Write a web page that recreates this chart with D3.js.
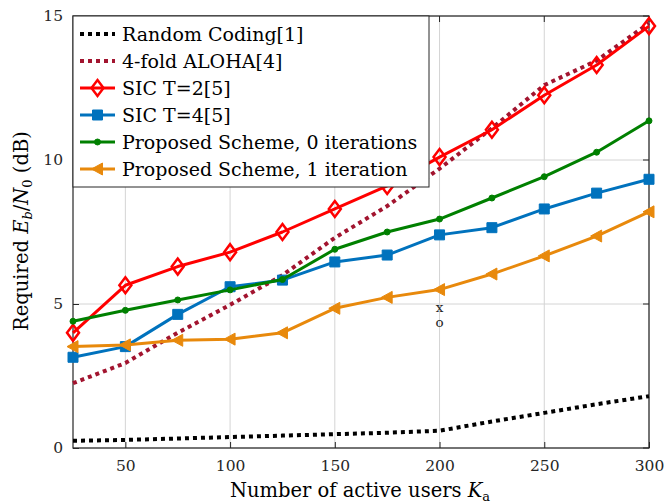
<!DOCTYPE html>
<html>
<head>
<meta charset="utf-8">
<script src="https://cdn.jsdelivr.net/npm/d3@7"></script>
<style>
  body { margin: 0; background: #fff; }
  text { font-family: "DejaVu Serif", serif; }
</style>
</head>
<body>
<svg id="chart" width="665" height="504"></svg>
<script>
const users = [25, 50, 75, 100, 125, 150, 175, 200, 225, 250, 275, 300];

const randomCoding = [0.25, 0.28, 0.33, 0.38, 0.43, 0.48, 0.53, 0.6, 0.92, 1.22, 1.52, 1.8];
const aloha4 = [2.25, 2.95, 4.0, 4.97, 6.0, 7.3, 8.4, 9.7, 11.1, 12.6, 13.45, 14.75];
const sicT2 = [4.0, 5.65, 6.3, 6.8, 7.5, 8.3, 9.1, 10.1, 11.05, 12.25, 13.3, 14.65];
const sicT4 = [3.15, 3.52, 4.64, 5.6, 5.83, 6.46, 6.7, 7.4, 7.65, 8.3, 8.85, 9.33];
const proposed0 = [4.4, 4.78, 5.14, 5.49, 5.85, 6.9, 7.5, 7.95, 8.68, 9.42, 10.27, 11.36];
const proposed1 = [3.52, 3.58, 3.74, 3.78, 4.0, 4.85, 5.23, 5.5, 6.04, 6.67, 7.36, 8.2];

const xTicks = [50, 100, 150, 200, 250, 300];
const yTicks = [0, 5, 10, 15];

const svg = d3.select('#chart');
const padLeft = 73, padRight = 649, padTop = 16, padBottom = 448;

const x = d3.scaleLinear().domain([25, 300]).range([padLeft, padRight]);
const y = d3.scaleLinear().domain([0, 15]).range([padBottom, padTop]);

// grid
svg.append('g').selectAll('line').data(xTicks).enter().append('line')
  .attr('x1', d => x(d)).attr('x2', d => x(d)).attr('y1', padTop).attr('y2', padBottom)
  .attr('stroke', '#d4d4d4').attr('stroke-width', 1);
svg.append('g').selectAll('line').data(yTicks).enter().append('line')
  .attr('x1', padLeft).attr('x2', padRight).attr('y1', d => y(d)).attr('y2', d => y(d))
  .attr('stroke', '#d4d4d4').attr('stroke-width', 1);

// axes
const xAxis = d3.axisBottom(x).tickValues(xTicks).tickSize(-6).tickPadding(12);
const yAxis = d3.axisLeft(y).tickValues(yTicks).tickSize(-6).tickPadding(10);
const gx = svg.append('g').attr('transform', `translate(0,${padBottom})`).call(xAxis);
const gy = svg.append('g').attr('transform', `translate(${padLeft},0)`).call(yAxis);
[gx, gy].forEach(g => {
  g.select('.domain').remove();
  g.selectAll('line').attr('stroke', '#262626');
  g.selectAll('text').attr('font-size', 15.5).attr('fill', '#262626')
    .attr('font-family', '"DejaVu Serif", serif');
});
// right side ticks
svg.append('g').selectAll('line').data(yTicks).enter().append('line')
  .attr('x1', padRight - 6).attr('x2', padRight).attr('y1', d => y(d)).attr('y2', d => y(d))
  .attr('stroke', '#262626');
svg.append('g').selectAll('line').data(xTicks).enter().append('line')
  .attr('x1', d => x(d)).attr('x2', d => x(d)).attr('y1', padTop).attr('y2', padTop + 6)
  .attr('stroke', '#262626');

svg.append('rect').attr('x', padLeft).attr('y', padTop)
  .attr('width', padRight - padLeft).attr('height', padBottom - padTop)
  .attr('fill', 'none').attr('stroke', '#262626').attr('stroke-width', 1.2);

// marker shapes
const markerPath = {
  diamond: 'M0,-8L6,0L0,8L-6,0Z',
  square: 'M-5,-5L5,-5L5,5L-5,5Z',
  dot: d3.symbol().type(d3.symbolCircle).size(28)(),
  left: 'M-6,0L5,-6L5,6Z'
};

const series = [
  { name: 'Random Coding[1]', values: randomCoding, color: '#000000', dash: '4 4', width: 4 },
  { name: '4-fold ALOHA[4]', values: aloha4, color: '#a2142f', dash: '4 4', width: 4 },
  { name: 'SIC T=2[5]', values: sicT2, color: '#ff0000', width: 3, marker: 'diamond', hollow: true },
  { name: 'SIC T=4[5]', values: sicT4, color: '#0072bd', width: 3, marker: 'square' },
  { name: 'Proposed Scheme, 0 iterations', values: proposed0, color: '#008000', width: 3, marker: 'dot' },
  { name: 'Proposed Scheme, 1 iteration', values: proposed1, color: '#e8890c', width: 3, marker: 'left' }
];

const line = d3.line().x(d => x(d[0])).y(d => y(d[1]));

const plot = svg.append('g');
series.forEach(s => {
  const pts = users.map((u, i) => [u, s.values[i]]);
  plot.append('path').datum(pts).attr('d', line)
    .attr('fill', 'none').attr('stroke', s.color).attr('stroke-width', s.width)
    .attr('stroke-dasharray', s.dash || null).attr('stroke-linejoin', 'round');
  if (s.marker) {
    plot.selectAll(null).data(pts).enter().append('path')
      .attr('d', markerPath[s.marker])
      .attr('transform', d => `translate(${x(d[0])},${y(d[1])})`)
      .attr('fill', s.hollow ? 'none' : s.color)
      .attr('stroke', s.color).attr('stroke-width', s.hollow ? 2.5 : 1);
  }
});

// the small x / o annotation
const xo = svg.append('text').attr('text-anchor', 'middle').attr('font-size', 13.5)
  .attr('font-family', '"Liberation Serif", serif').attr('fill', '#262626');
xo.append('tspan').attr('x', x(200)).attr('y', 312).text('x');
xo.append('tspan').attr('x', x(200)).attr('dy', 15).text('o');

// legend
const legend = svg.append('g');
legend.append('rect').attr('x', padLeft).attr('y', padTop).attr('width', 356).attr('height', 171)
  .attr('fill', '#fff').attr('stroke', '#262626').attr('stroke-width', 1);
series.forEach((s, i) => {
  const ly = 34 + i * 27;
  legend.append('line').attr('x1', 80).attr('x2', 115).attr('y1', ly).attr('y2', ly)
    .attr('stroke', s.color).attr('stroke-width', s.width)
    .attr('stroke-dasharray', s.dash || null);
  if (s.marker) {
    legend.append('path').attr('d', markerPath[s.marker])
      .attr('transform', `translate(97.5,${ly})`)
      .attr('fill', s.hollow ? 'none' : s.color)
      .attr('stroke', s.color).attr('stroke-width', s.hollow ? 2.5 : 1);
  }
  legend.append('text').attr('x', 122).attr('y', ly + 7)
    .attr('font-size', 19).attr('fill', '#000').text(s.name);
});

// axis titles
const xl = svg.append('text').attr('x', 360).attr('y', 497).attr('text-anchor', 'middle')
  .attr('font-size', 19.5);
xl.append('tspan').text('Number of active users ');
xl.append('tspan').attr('font-style', 'italic').text('K');
xl.append('tspan').attr('font-size', 13).attr('dy', 4).text('a');

const yl = svg.append('text').attr('transform', 'translate(28,231) rotate(-90)')
  .attr('text-anchor', 'middle').attr('font-size', 19.5);
yl.append('tspan').text('Required ');
yl.append('tspan').attr('font-style', 'italic').text('E');
yl.append('tspan').attr('font-style', 'italic').attr('font-size', 13).attr('dy', 4).text('b');
yl.append('tspan').attr('dy', -4).text('/');
yl.append('tspan').attr('font-style', 'italic').text('N');
yl.append('tspan').attr('font-size', 13).attr('dy', 4).text('0');
yl.append('tspan').attr('dy', -4).text(' (dB)');
</script>
</body>
</html>
